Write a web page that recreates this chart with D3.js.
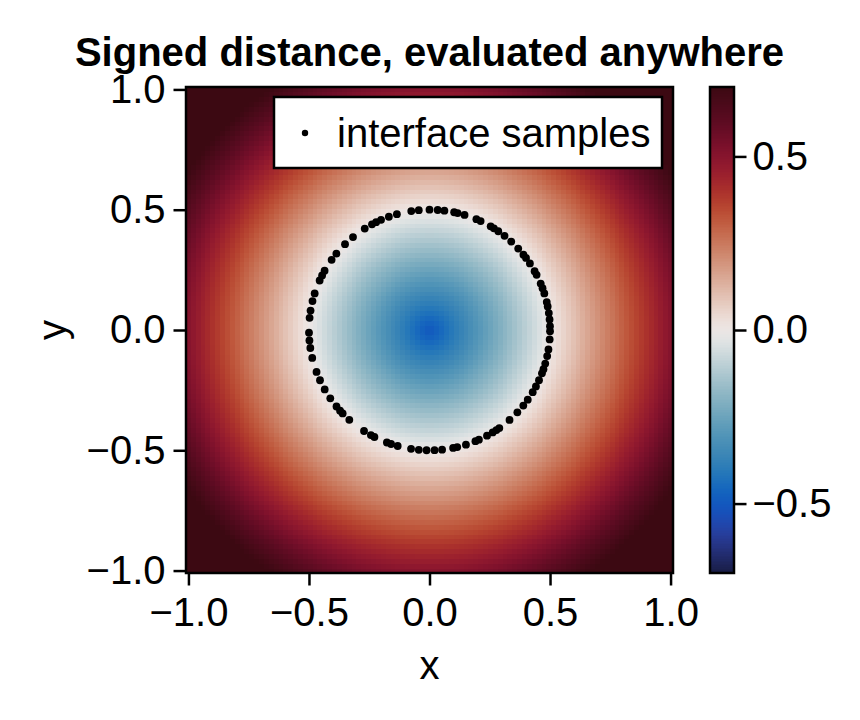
<!DOCTYPE html>
<html>
<head>
<meta charset="utf-8">
<script src="https://cdn.jsdelivr.net/npm/d3@7"></script>
<style>
  body { margin: 0; background: #fff; }
  text { font-family: "Liberation Sans", Arial, sans-serif; fill: #000; }
  .axis text { font-size: 40px; }
  .axis line { stroke: #000; stroke-width: 2.5; }
  .axis path { display: none; }
</style>
</head>
<body>
<svg width="860" height="720"></svg>
<script>
// --- data ---
const xTicks = [-1, -0.5, 0, 0.5, 1];
const yTicks = [-1, -0.5, 0, 0.5, 1];
const cbTicks = [-0.5, 0, 0.5];
const gridN = 100;                 // heatmap samples per side
const gridExtent = [-1, 1];
const circleCenter = [0, 0];
const circleRadius = 0.5;
const colorLimits = [-0.7, 0.7];
// angles (degrees) of the interface samples
const sampleAngles = [
  90, 95.1, 98.7, 105.7, 109.7, 113.7, 116.3, 118.5, 122.5, 129.4, 134.5, 140.6,
  144.3, 150.5, 153.0, 155.7, 162.3, 166.1, 170.7, 174.2, 181.3, 185.0, 188.6,
  193.4, 200.4, 204.7, 209.6, 214.6, 219.5, 222.1, 223.9, 228.3, 237.1, 240.9,
  242.8, 249.3, 251.4, 254.7, 261.2, 264.9, 268.6,
  86.1, 82.9, 78.2, 76.5, 73.1, 67.1, 64.9, 59.5, 57.7, 55.2, 51.5, 47.3, 42.6,
  38.8, 36.8, 33.6, 29.3, 27.3, 22.7, 20.3, 17.7, 13.4, 11.3, 8.1, 5.0, 1.8, -0.6,
  -4.5, -9.3, -12.5, -16.2, -19.0, -21.1, -24.7, -28.0, -31.1, -35.4, -38.9, -43.2,
  -48.4, -54.6, -56.3, -58.4, -61.5, -65.8, -67.6, -72.4, -76.7, -78.7, -84.0, -87.6
];
// approximate cmocean "balance"
const balanceStops = [
  "#181c43", "#232d72", "#2a3fa0", "#1550bd", "#0f62c0", "#2679b8", "#3f88b5",
  "#5597b8", "#74a8bd", "#91b8c5", "#b2cad1", "#d2dcde", "#f1eceb",
  "#e9d3ca", "#e0b9a9", "#d69d87", "#cc8166", "#c46548", "#b9482f", "#a92d2b",
  "#951a2f", "#7d102c", "#630c24", "#4e0a1c", "#3c0912"
];

const svg = d3.select("svg");
const balance = d3.interpolateRgbBasis(balanceStops);
const color = v => balance(Math.max(0, Math.min(1, (v - colorLimits[0]) / (colorLimits[1] - colorLimits[0]))));

// grid of cell centres, half step padding like a heatmap
const step = (gridExtent[1] - gridExtent[0]) / (gridN - 1);
const gx = d3.range(gridN).map(i => gridExtent[0] + i * step);
const lim = [gridExtent[0] - step / 2, gridExtent[1] + step / 2];

const x = d3.scaleLinear().domain(lim).range([186, 673]);
const y = d3.scaleLinear().domain(lim).range([573, 87]);

const cells = [];
gx.forEach(cx => gx.forEach(cy => {
  const d = Math.hypot(cx - circleCenter[0], cy - circleCenter[1]) - circleRadius;
  cells.push({ cx, cy, d });
}));

svg.append("g")
  .attr("shape-rendering", "crispEdges")
  .selectAll("rect")
  .data(cells)
  .enter()
  .append("rect")
  .attr("x", d => x(d.cx - step / 2))
  .attr("y", d => y(d.cy + step / 2))
  .attr("width", d => x(d.cx + step / 2) - x(d.cx - step / 2) + 0.5)
  .attr("height", d => y(d.cy - step / 2) - y(d.cy + step / 2) + 0.5)
  .attr("fill", d => color(d.d));

// sample points
svg.append("g")
  .selectAll("circle")
  .data(sampleAngles)
  .enter()
  .append("circle")
  .attr("cx", a => x(circleCenter[0] + circleRadius * Math.cos(a * Math.PI / 180)))
  .attr("cy", a => y(circleCenter[1] + circleRadius * Math.sin(a * Math.PI / 180)))
  .attr("r", 3.9)
  .attr("fill", "#000");

// frame
svg.append("rect")
  .attr("x", x(lim[0])).attr("y", y(lim[1]))
  .attr("width", x(lim[1]) - x(lim[0]))
  .attr("height", y(lim[0]) - y(lim[1]))
  .attr("fill", "none").attr("stroke", "#000").attr("stroke-width", 2.5);

const fmt = d3.format(".1f");

// axes
svg.append("g")
  .attr("class", "axis")
  .attr("transform", `translate(0,${y(lim[0])})`)
  .call(d3.axisBottom(x).tickValues(xTicks).tickFormat(fmt).tickSize(12.5).tickPadding(12));

svg.append("g")
  .attr("class", "axis")
  .attr("transform", `translate(${x(lim[0])},0)`)
  .call(d3.axisLeft(y).tickValues(yTicks).tickFormat(fmt).tickSize(12.5).tickPadding(8));

// axis labels
svg.append("text")
  .attr("x", (x(lim[0]) + x(lim[1])) / 2)
  .attr("y", 679)
  .attr("text-anchor", "middle")
  .style("font-size", "40px")
  .text("x");

svg.append("text")
  .attr("transform", `translate(66,${(y(lim[0]) + y(lim[1])) / 2}) rotate(-90)`)
  .attr("text-anchor", "middle")
  .style("font-size", "40px")
  .text("y");

// title
svg.append("text")
  .attr("x", (x(lim[0]) + x(lim[1])) / 2)
  .attr("y", 66)
  .attr("text-anchor", "middle")
  .style("font-size", "40px")
  .style("font-weight", "bold")
  .text("Signed distance, evaluated anywhere");

// colorbar
const cb = d3.scaleLinear().domain(colorLimits).range([573, 87]);
const cbX0 = 710, cbX1 = 734;
const cbVals = d3.range(0, 300).map(i => colorLimits[0] + (i + 0.5) * (colorLimits[1] - colorLimits[0]) / 300);
const cbStep = (colorLimits[1] - colorLimits[0]) / 300;

svg.append("g")
  .attr("shape-rendering", "crispEdges")
  .selectAll("rect")
  .data(cbVals)
  .enter()
  .append("rect")
  .attr("x", cbX0)
  .attr("y", v => cb(v + cbStep / 2))
  .attr("width", cbX1 - cbX0)
  .attr("height", v => cb(v - cbStep / 2) - cb(v + cbStep / 2) + 0.5)
  .attr("fill", v => color(v));

svg.append("rect")
  .attr("x", cbX0).attr("y", cb(colorLimits[1]))
  .attr("width", cbX1 - cbX0)
  .attr("height", cb(colorLimits[0]) - cb(colorLimits[1]))
  .attr("fill", "none").attr("stroke", "#000").attr("stroke-width", 2.5);

svg.append("g")
  .attr("class", "axis")
  .attr("transform", `translate(${cbX1},0)`)
  .call(d3.axisRight(cb).tickValues(cbTicks).tickFormat(fmt).tickSize(12.5).tickPadding(6));

// legend
const legend = svg.append("g");
legend.append("rect")
  .attr("x", 274).attr("y", 97)
  .attr("width", 388).attr("height", 71)
  .attr("fill", "#fff").attr("stroke", "#000").attr("stroke-width", 2.5);
legend.append("circle")
  .attr("cx", 305).attr("cy", 133).attr("r", 3.2)
  .attr("fill", "#000");
legend.append("text")
  .attr("x", 337).attr("y", 147)
  .style("font-size", "40px")
  .text("interface samples");
</script>
</body>
</html>
